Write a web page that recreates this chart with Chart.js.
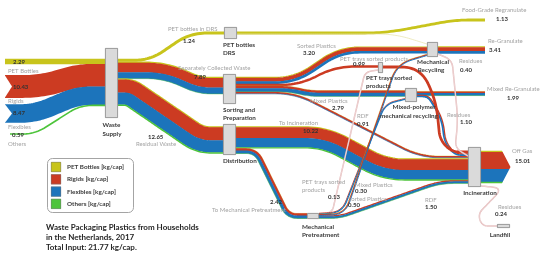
<!DOCTYPE html>
<html>
<head>
<meta charset="utf-8">
<script src="https://cdn.jsdelivr.net/npm/chart.js@4.4.1/dist/chart.umd.min.js"></script>
<style>
  html, body { margin: 0; padding: 0; background: #fff; }
  canvas { display: block; }
</style>
</head>
<body>
<canvas id="sankey" width="550" height="257"></canvas>
<script>
// materiais (camadas de cada fluxo)
const materials = ["PET Bottles", "Rigids", "Flexibles", "Others"]
const materialColors = ["#c8c41c", "#cc3b22", "#1c74bb", "#4dc43b"]

// fluxos, kg/cap
const flowNames = [
  "PET Bottles", "Rigids", "Flexibles", "Others",
  "PET bottles in DRS", "Separately Collected Waste", "Residual Waste",
  "Sorted Plastics", "PET trays sorted products", "Mixed Plastics", "RDF",
  "To Incineration", "To Mechanical Pretreatment",
  "Food-Grade Regranulate", "DRS residues", "Re-Granulate", "Mixed Re-Granulate",
  "Residues", "Residues", "PET trays residues", "RDF",
  "PET trays sorted products", "Mixed Plastics", "Sorted Plastics",
  "Off Gas", "Residues"
]
const petBottles = [2.29, 0, 0, 0, 1.24, 0.55, 0.50, 0.40, 0, 0.10, 0.05, 0.45, 0.05, 1.13, 0.11, 0.45, 0.10, 0, 0.11, 0, 0, 0, 0, 0.05, 0.60, 0.01]
const rigids     = [0, 10.43, 0, 0, 0, 4.40, 6.03, 1.70, 0.99, 1.00, 0.71, 5.00, 1.03, 0, 0, 1.80, 0.70, 0.50, 0.15, 1.12, 0.53, 0.13, 0.12, 0.25, 7.86, 0.15]
const flexibles  = [0, 0, 8.47, 0, 0, 2.90, 5.57, 1.10, 0, 1.65, 0.15, 4.30, 1.27, 0, 0, 1.16, 1.15, 0.60, 0.14, 0, 0.89, 0, 0.18, 0.20, 6.00, 0.08]
const others     = [0, 0, 0, 0.59, 0, 0.04, 0.55, 0, 0, 0.04, 0, 0.47, 0.07, 0, 0, 0, 0.04, 0, 0, 0, 0.08, 0, 0, 0, 0.55, 0]
const flowTotals = flowNames.map((_, i) => petBottles[i] + rigids[i] + flexibles[i] + others[i])

// traçado de cada fluxo (coordenadas do eixo) e estilo
const flowPaths = [
  [[5, 61.5], [105, 61.5]],
  [[5, 86.5], [40, 86.5], [80, 75.3], [105, 75.3]],
  [[5, 113.5], [35, 113.5], [78, 95.7], [105, 95.7]],
  [[10, 134], [35, 134], [80, 105.4], [105, 105.4]],
  [[118, 60.3], [150, 60.3], [190, 33], [224, 33]],
  [[118, 70.2], [165, 70.2], [200, 85.5], [223, 85.5]],
  [[118, 92.2], [130, 92.2], [200, 140], [223, 140]],
  [[236, 80.4], [295, 80.4], [340, 50], [427, 50]],
  [[236, 85], [300, 85], [335, 66.5], [378, 66.5]],
  [[236, 89], [290, 89], [310, 93.5], [405, 93.5]],
  [[236, 93], [295, 93], [420, 157], [468, 157]],
  [[236, 137.4], [325, 137.4], [385, 169.5], [468, 169.5]],
  [[236, 151], [256, 151], [288, 216], [307, 216]],
  [[237, 33], [385, 33], [455, 20], [485, 20]],
  [[237, 34], [395, 34], [427, 44]],
  [[438, 50], [485, 50]],
  [[417, 93.5], [485, 93.5]],
  [[417, 96], [428, 96], [442, 118], [445, 142], [455, 154.6], [468, 154.6]],
  [[438, 54], [452, 60], [458, 120], [455, 148], [468, 156]],
  [[383, 67], [420, 67], [436, 100], [440, 140], [452, 152], [468, 152]],
  [[319, 217], [340, 217], [440, 182], [468, 182]],
  [[319, 213], [332, 213], [365, 72], [378, 70]],
  [[319, 214], [342, 212], [385, 104], [405, 99]],
  [[319, 215], [345, 214], [397, 64], [427, 55]],
  [[481, 167], [511, 167]],
  [[481, 186], [503, 188], [478, 214], [482, 226], [497, 226]]
]
const faintFlows = [14, 18, 21, 25]
const thinBands = [22, 23]

// nós: [x0, y0, x1, y1]
const nodeBoxes = [
  [105, 48, 118, 118], [224, 27, 237, 39], [223, 74, 236, 104], [223, 124, 236, 155],
  [427, 42, 438, 57], [378, 62, 383, 73], [405, 88, 417, 102], [307, 213, 319, 219],
  [468, 147, 481, 187], [497, 224, 510, 228]
]

const KG = 2.15 // unidades do eixo por kg/cap
const FONT = "Lato, 'Open Sans', sans-serif"

// textos: [texto, x, y, tipo, alinhamento]
const labels = [
  ["PET Bottles", 8, 71, "g"], ["Rigids", 8, 101, "g"], ["Flexibles", 8, 127, "g"], ["Others", 8, 144, "g"],
  ["2.29", 13, 62, "v"], ["10.43", 13, 87, "v"], ["8.47", 13, 113, "v"], ["0.59", 12, 135, "v"],
  ["PET bottles in DRS", 168, 29, "g"], ["1.24", 183, 41, "v"],
  ["Separately Collected Waste", 178, 68, "g"], ["7.89", 194, 77.5, "v"],
  ["12.65", 148, 137, "v"], ["Residual Waste", 136, 144, "g"],
  ["Sorted Plastics", 297, 46, "g"], ["3.20", 303, 53.5, "v"],
  ["PET trays sorted products", 340, 59, "g"], ["0.99", 353, 64, "v"],
  ["Mixed Plastics", 310, 101, "g"], ["2.79", 332, 108, "v"],
  ["To Incineration", 279, 123, "g"], ["10.22", 303, 131, "v"],
  ["RDF", 357, 116, "g"], ["0.91", 357, 124.5, "v"],
  ["Food-Grade Regranulate", 462, 10, "g"], ["1.13", 496, 19, "v"],
  ["Re-Granulate", 488, 41, "g"], ["3.41", 489, 50, "v"],
  ["Residues", 459, 61, "g"], ["0.40", 460, 70, "v"],
  ["Mixed Re-Granulate", 487, 89, "g"], ["1.99", 507, 98, "v"],
  ["Residues", 447, 115, "g"], ["1.10", 460, 122.5, "v"],
  ["Off Gas", 512, 151, "g"], ["15.01", 515, 161, "v"],
  ["Residues", 498, 207, "g"], ["0.24", 495, 214, "v"],
  ["PET trays sorted", 302, 182, "g"], ["products", 302, 190.5, "g"], ["0.13", 328, 197, "v"],
  ["Mixed Plastics", 355, 185, "g"], ["0.30", 355, 191, "v"],
  ["Sorted Plastics", 348, 199, "g"], ["0.50", 348, 205, "v"],
  ["2.42", 270, 202, "v"], ["To Mechanical Pretreatment", 212, 210, "g"],
  ["RDF", 425, 200, "g"], ["1.50", 425, 207, "v"],
  ["Waste", 111.5, 125, "n", "center"], ["Supply", 112, 134, "n", "center"],
  ["PET bottles", 223, 44.5, "n"], ["DRS", 223, 52.5, "n"],
  ["Sorting and", 223, 109.5, "n"], ["Preparation", 223, 118, "n"],
  ["Distribution", 223, 161, "n"],
  ["Mechanical", 433, 62, "n", "center"], ["Recycling", 431, 70, "n", "center"],
  ["PET trays sorted", 366, 78, "n"], ["products", 366, 86, "n"],
  ["Mixed-polymer", 414, 107, "n", "center"], ["mechanical recycling", 409, 116, "n", "center"],
  ["Mechanical", 302, 227, "n"], ["Pretreatment", 302, 235, "n"],
  ["Incineration", 480, 193, "n", "center"], ["Landfill", 500, 234.5, "n", "center"]
]

function amostrar(pts, raio) {
  const out = [pts[0]]
  const linha = (a, b) => {
    const n = Math.max(1, Math.ceil(Math.hypot(b[0] - a[0], b[1] - a[1]) / 2))
    for (let i = 1; i <= n; i++) out.push([a[0] + (b[0] - a[0]) * i / n, a[1] + (b[1] - a[1]) * i / n])
  }
  let cur = pts[0]
  for (let i = 1; i < pts.length - 1; i++) {
    const p0 = pts[i - 1], p = pts[i], p1 = pts[i + 1]
    const d1 = Math.hypot(p[0] - p0[0], p[1] - p0[1]), d2 = Math.hypot(p1[0] - p[0], p1[1] - p[1])
    const r = Math.min(raio, d1 / 2, d2 / 2)
    const a = [p[0] - (p[0] - p0[0]) / d1 * r, p[1] - (p[1] - p0[1]) / d1 * r]
    const b = [p[0] + (p1[0] - p[0]) / d2 * r, p[1] + (p1[1] - p[1]) / d2 * r]
    linha(cur, a)
    for (let t = 1; t <= 14; t++) {
      const s = t / 14
      out.push([(1 - s) * (1 - s) * a[0] + 2 * (1 - s) * s * p[0] + s * s * b[0],
                (1 - s) * (1 - s) * a[1] + 2 * (1 - s) * s * p[1] + s * s * b[1]])
    }
    cur = b
  }
  linha(cur, pts[pts.length - 1])
  return out
}

function deslocar(s, d) {
  return s.map((p, i) => {
    const a = s[Math.max(0, i - 1)], b = s[Math.min(s.length - 1, i + 1)]
    const tx = b[0] - a[0], ty = b[1] - a[1], l = Math.hypot(tx, ty) || 1
    return [p[0] - ty / l * d, p[1] + tx / l * d]
  })
}

function tracar(ctx, s, cor, w) {
  ctx.beginPath()
  s.forEach((p, i) => i ? ctx.lineTo(p[0], p[1]) : ctx.moveTo(p[0], p[1]))
  ctx.strokeStyle = cor
  ctx.lineWidth = w
  ctx.stroke()
}

const sankeyPlugin = {
  id: "sankey",
  afterDatasetsDraw(chart) {
    const { ctx, scales: { x, y } } = chart
    const P = p => [x.getPixelForValue(p[0]), y.getPixelForValue(p[1])]
    const unidade = Math.abs(y.getPixelForValue(KG) - y.getPixelForValue(0))
    ctx.save()
    ctx.lineCap = "butt"
    ctx.lineJoin = "round"

    const desenharFluxo = i => {
      const s = amostrar(flowPaths[i].map(P), 20)
      if (faintFlows.includes(i)) {
        if (i === 14) { tracar(ctx, s, "#e6e3a8", 0.7); return }
        tracar(ctx, s, "#e2b6b6", 1.5)
        tracar(ctx, s, "#fdf6f6", 0.45)
        return
      }
      const vals = [petBottles[i], rigids[i], flexibles[i], others[i]]
      let ws = vals.map(v => v * unidade)
      const W = ws.reduce((a, b) => a + b, 0)
      if (thinBands.includes(i)) ws = ws.map(w => w * 1.6 / W)
      let acc = -ws.reduce((a, b) => a + b, 0) / 2
      vals.forEach((v, k) => {
        if (!v) return
        tracar(ctx, deslocar(s, acc + ws[k] / 2), materialColors[k], ws[k] + 0.35)
        acc += ws[k]
      })
    }

    flowNames.forEach((_, i) => {
      if (faintFlows.includes(i) || thinBands.includes(i) || i === 24) return
      desenharFluxo(i)
    })

    // caudas das setas de entrada
    ctx.fillStyle = "#fff"
    ;[[75, 86.5, 98], [104, 113.5, 123]].forEach(([t, c, b]) => {
      const a = P([4, t - 1]), m = P([12, c]), z = P([4, b + 1])
      ctx.beginPath(); ctx.moveTo(a[0], a[1]); ctx.lineTo(m[0], m[1]); ctx.lineTo(z[0], z[1]); ctx.closePath(); ctx.fill()
    })

    // seta Off Gas
    ctx.save()
    const clip = [[470, 140], [502, 140], [502, 150.8], [510.5, 167], [502, 183.2], [502, 195], [470, 195]].map(P)
    ctx.beginPath()
    clip.forEach((p, i) => i ? ctx.lineTo(p[0], p[1]) : ctx.moveTo(p[0], p[1]))
    ctx.closePath()
    ctx.clip()
    desenharFluxo(24)
    ctx.restore()

    faintFlows.forEach(desenharFluxo)
    thinBands.forEach(desenharFluxo)

    // nós
    nodeBoxes.forEach(b => {
      const a = P([b[0], b[1]]), z = P([b[2], b[3]])
      ctx.fillStyle = "#dadada"
      ctx.fillRect(a[0], a[1], z[0] - a[0], z[1] - a[1])
      ctx.strokeStyle = "#8a8a8a"
      ctx.lineWidth = 0.8
      ctx.strokeRect(a[0] + 0.4, a[1] + 0.4, z[0] - a[0] - 0.8, z[1] - a[1] - 0.8)
    })

    // textos
    ctx.textBaseline = "middle"
    labels.forEach(([txt, lx, ly, tipo, al]) => {
      const p = P([lx, ly])
      ctx.textAlign = al || "left"
      if (tipo === "g") { ctx.font = `6px ${FONT}`; ctx.fillStyle = "#a3a3a3" }
      else if (tipo === "v") { ctx.font = `bold 6px ${FONT}`; ctx.fillStyle = "#333" }
      else { ctx.font = `bold 6.3px ${FONT}`; ctx.fillStyle = "#3a3a3a" }
      ctx.fillText(txt, p[0], p[1])
    })

    // legenda
    const l0 = P([47.5, 158.5]), l1 = P([133.5, 212.5])
    ctx.beginPath()
    ctx.roundRect(l0[0], l0[1], l1[0] - l0[0], l1[1] - l0[1], 5)
    ctx.strokeStyle = "#9a9a9a"
    ctx.lineWidth = 0.9
    ctx.stroke()
    materials.forEach((m, k) => {
      const q = P([51, 162 + k * 12.3])
      ctx.fillStyle = materialColors[k]
      ctx.fillRect(q[0], q[1], 10, 10)
      ctx.strokeStyle = "#777"
      ctx.lineWidth = 0.5
      ctx.strokeRect(q[0] + 0.25, q[1] + 0.25, 9.5, 9.5)
      ctx.font = `bold 6.3px ${FONT}`
      ctx.fillStyle = "#3a3a3a"
      ctx.textAlign = "left"
      ctx.fillText(`${m} [kg/cap]`, q[0] + 16, q[1] + 5)
    })

    // título
    ctx.font = `bold 8px ${FONT}`
    ctx.fillStyle = "#262626"
    ;["Waste Packaging Plastics from Households", "in the Netherlands, 2017", "Total Input: 21.77 kg/cap."]
      .forEach((t, k) => { const p = P([46, 227 + k * 10]); ctx.fillText(t, p[0], p[1]) })

    ctx.restore()
  }
}

new Chart(document.getElementById("sankey"), {
  type: "scatter",
  data: { datasets: [{ data: nodeBoxes.map(b => ({ x: (b[0] + b[2]) / 2, y: (b[1] + b[3]) / 2 })), pointRadius: 0 }] },
  options: {
    responsive: false,
    animation: false,
    devicePixelRatio: 1,
    layout: { padding: 0 },
    plugins: { legend: { display: false }, tooltip: { enabled: false } },
    scales: {
      x: { type: "linear", min: 0, max: 550, display: false },
      y: { type: "linear", min: 0, max: 257, reverse: true, display: false }
    }
  },
  plugins: [sankeyPlugin]
})
</script>
</body>
</html>
